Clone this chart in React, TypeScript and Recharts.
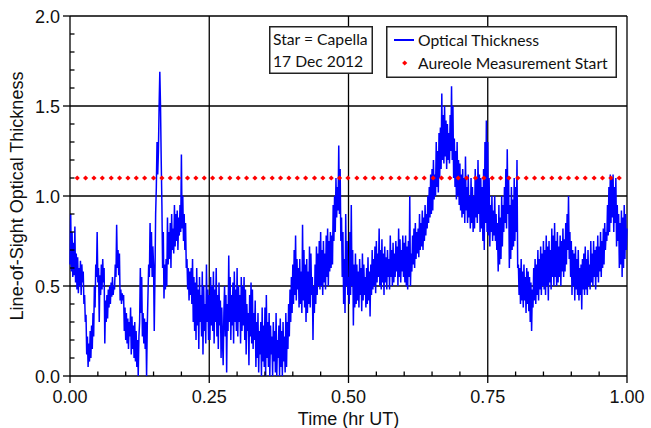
import { ComposedChart, Line, Scatter, XAxis, YAxis, ReferenceLine, Legend } from "recharts";

// optical thickness samples, one every 0.00125 hr, one array per eighth of the hour
const T_STEP = 0.00125;

const tau1 = [
  0.62, 0.90, 0.58, 0.80, 0.55, 0.74, 0.56, 0.83, 0.52, 0.68,
  0.48, 0.66, 0.46, 0.60, 0.50, 0.64, 0.45, 0.62, 0.52, 0.58,
  0.40, 0.45, 0.30, 0.34, 0.12, 0.22, 0.05, 0.18, 0.08, 0.25,
  0.10, 0.28, 0.15, 0.35, 0.22, 0.50, 0.38, 0.62, 0.55, 0.80,
  0.52, 0.60, 0.30, 0.56, 0.45, 0.62, 0.48, 0.65, 0.52, 0.60,
  0.18, 0.42, 0.30, 0.45, 0.32, 0.48, 0.38, 0.50, 0.40, 0.52,
  0.44, 0.55, 0.45, 0.50, 0.48, 0.62, 0.55, 0.84, 0.60, 0.70,
  0.56, 0.68, 0.42, 0.48, 0.40, 0.46, 0.42, 0.45, 0.25, 0.38,
  0.20, 0.35, 0.18, 0.32, 0.15, 0.30, 0.22, 0.38, 0.12, 0.33,
  0.15, 0.28, 0.10, 0.30, 0.08, 0.25, 0.05, 0.20, 0.00, 0.22,
];

const tau2 = [
  0.30, 0.60, 0.35, 0.55, 0.22, 0.35, 0.18, 0.32, 0.15, 0.30,
  0.00, 0.28, 0.45, 0.62, 0.55, 0.85, 0.60, 0.80, 0.55, 0.72,
  0.62, 0.25, 0.55, 0.90, 1.05, 1.30, 1.12, 1.25, 1.50, 1.69,
  1.50, 1.20, 0.95, 0.60, 0.80, 0.43, 0.62, 0.48, 0.65, 0.50,
  0.88, 0.62, 0.80, 0.65, 0.85, 0.60, 0.90, 0.70, 0.82, 0.68,
  0.95, 0.72, 0.90, 0.75, 0.92, 0.70, 0.88, 0.78, 0.95, 0.80,
  1.23, 0.82, 1.00, 0.75, 0.90, 0.70, 0.85, 0.60, 0.65, 0.48,
  0.60, 0.42, 0.58, 0.45, 0.60, 0.40, 0.65, 0.30, 0.55, 0.25,
  0.52, 0.20, 0.60, 0.28, 0.48, 0.15, 0.55, 0.30, 0.45, 0.22,
  0.58, 0.12, 0.50, 0.25, 0.40, 0.18, 0.62, 0.30, 0.48, 0.20,
];

const tau3 = [
  0.45, 0.20, 0.55, 0.28, 0.50, 0.25, 0.58, 0.18, 0.48, 0.30,
  0.60, 0.22, 0.45, 0.15, 0.52, 0.28, 0.42, 0.10, 0.38, 0.20,
  0.06, 0.35, 0.50, 0.22, 0.45, 0.02, 0.40, 0.25, 0.67, 0.30,
  0.55, 0.20, 0.45, 0.28, 0.52, 0.18, 0.58, 0.30, 0.48, 0.25,
  0.60, 0.22, 0.50, 0.30, 0.45, 0.18, 0.55, 0.25, 0.50, 0.28,
  0.55, 0.20, 0.48, 0.12, 0.40, 0.25, 0.35, 0.06, 0.45, 0.22,
  0.52, 0.18, 0.48, 0.15, 0.35, 0.20, 0.42, 0.05, 0.30, 0.10,
  0.35, 0.02, 0.25, 0.12, 0.30, 0.00, 0.38, 0.08, 0.28, 0.05,
  0.38, 0.00, 0.45, 0.10, 0.30, 0.05, 0.35, 0.00, 0.28, 0.12,
  0.22, 0.00, 0.30, 0.08, 0.25, 0.02, 0.35, 0.00, 0.20, 0.10,
];

const tau4 = [
  0.28, 0.00, 0.32, 0.05, 0.25, 0.00, 0.30, 0.08, 0.22, 0.02,
  0.35, 0.05, 0.30, 0.15, 0.40, 0.22, 0.48, 0.30, 0.55, 0.35,
  0.62, 0.40, 0.70, 0.45, 0.78, 0.42, 0.65, 0.48, 0.60, 0.38,
  0.65, 0.40, 0.58, 0.35, 0.84, 0.42, 0.70, 0.38, 0.62, 0.30,
  0.65, 0.35, 0.58, 0.40, 0.72, 0.38, 0.68, 0.45, 0.55, 0.20,
  0.50, 0.35, 0.62, 0.40, 0.72, 0.45, 0.68, 0.50, 0.75, 0.48,
  0.80, 0.50, 0.70, 0.45, 0.75, 0.52, 0.68, 0.48, 0.78, 0.55,
  0.82, 0.50, 0.75, 0.58, 0.80, 0.60, 0.78, 0.62, 0.95, 0.75,
  1.00, 0.80, 1.10, 0.88, 1.05, 0.92, 1.28, 0.90, 1.15, 0.75,
  0.88, 0.55, 0.80, 0.40, 0.65, 0.35, 0.90, 0.50, 0.75, 0.45,
];

const tau5 = [
  0.55, 0.40, 0.80, 0.45, 0.95, 0.50, 0.70, 0.28, 0.62, 0.38,
  0.68, 0.40, 0.62, 0.42, 0.58, 0.38, 0.65, 0.45, 0.60, 0.36,
  0.68, 0.42, 0.62, 0.45, 0.55, 0.38, 0.60, 0.40, 0.66, 0.42,
  0.58, 0.33, 0.62, 0.45, 0.70, 0.48, 0.65, 0.50, 0.72, 0.46,
  0.75, 0.52, 0.68, 0.55, 0.82, 0.50, 0.70, 0.48, 0.76, 0.52,
  0.68, 0.45, 0.72, 0.52, 0.66, 0.48, 0.70, 0.55, 0.65, 0.48,
  0.78, 0.55, 0.70, 0.50, 0.74, 0.52, 0.68, 0.55, 0.75, 0.58,
  0.72, 0.50, 0.82, 0.55, 0.76, 0.52, 0.70, 0.58, 0.78, 0.55,
  0.74, 0.52, 0.78, 0.50, 0.72, 0.48, 0.75, 0.55, 1.00, 0.50,
  0.68, 0.58, 0.78, 0.62, 0.82, 0.60, 0.85, 0.65, 0.80, 0.68,
];

const tau6 = [
  0.82, 0.66, 0.90, 0.70, 0.85, 0.72, 0.92, 0.70, 0.88, 0.75,
  0.95, 0.78, 0.90, 0.82, 1.00, 0.85, 1.05, 0.88, 1.12, 0.90,
  1.15, 0.92, 1.20, 0.98, 1.12, 1.00, 1.30, 1.05, 1.25, 1.02,
  1.35, 1.10, 1.38, 1.15, 1.57, 1.20, 1.45, 1.18, 1.50, 1.22,
  1.42, 1.15, 1.40, 1.20, 1.35, 1.18, 1.45, 1.25, 1.61, 1.20,
  1.50, 1.10, 1.32, 1.05, 1.25, 0.98, 1.30, 1.00, 1.20, 0.95,
  1.18, 0.92, 1.12, 0.88, 1.15, 0.90, 1.10, 0.85, 1.22, 0.92,
  1.05, 0.85, 1.12, 0.88, 1.00, 0.82, 1.10, 0.85, 1.05, 0.80,
  1.00, 0.82, 1.15, 0.88, 1.10, 0.85, 1.20, 0.90, 1.12, 0.80,
  1.10, 0.82, 1.05, 0.75, 1.15, 0.70, 1.30, 0.85, 1.42, 0.80,
];

const tau7 = [
  1.30, 0.78, 1.10, 0.72, 0.95, 0.80, 1.00, 0.75, 0.92, 0.78,
  1.00, 0.75, 0.90, 0.70, 0.85, 0.58, 0.95, 0.62, 0.88, 0.65,
  1.00, 0.72, 0.95, 0.80, 1.05, 0.85, 1.15, 0.82, 1.26, 0.90,
  1.10, 0.60, 0.95, 0.65, 1.05, 0.70, 0.98, 0.72, 1.10, 0.75,
  1.05, 0.80, 1.20, 0.60, 0.62, 0.45, 0.60, 0.40, 0.65, 0.42,
  0.58, 0.38, 0.62, 0.42, 0.55, 0.35, 0.60, 0.40, 0.58, 0.36,
  0.55, 0.30, 0.52, 0.25, 0.48, 0.38, 0.60, 0.42, 0.65, 0.40,
  0.62, 0.45, 0.70, 0.42, 0.65, 0.48, 0.72, 0.45, 0.68, 0.50,
  0.75, 0.48, 0.70, 0.45, 0.78, 0.50, 0.72, 0.42, 0.75, 0.52,
  0.70, 0.48, 0.82, 0.55, 0.78, 0.50, 0.85, 0.55, 0.75, 0.50,
];

const tau8 = [
  0.80, 0.52, 0.72, 0.55, 0.78, 0.50, 0.75, 0.58, 0.82, 0.55,
  0.76, 0.58, 0.85, 0.62, 0.90, 0.70, 1.00, 0.65, 0.80, 0.55,
  0.75, 0.45, 0.70, 0.50, 0.68, 0.42, 0.72, 0.48, 0.65, 0.45,
  0.70, 0.42, 0.60, 0.45, 0.62, 0.37, 0.65, 0.48, 0.68, 0.45,
  0.72, 0.48, 0.65, 0.45, 0.70, 0.50, 0.62, 0.48, 0.75, 0.52,
  0.68, 0.50, 0.75, 0.55, 0.70, 0.48, 0.72, 0.55, 0.78, 0.52,
  0.72, 0.58, 0.80, 0.55, 0.75, 0.60, 0.82, 0.62, 0.85, 0.70,
  0.80, 0.75, 0.95, 0.78, 1.05, 0.80, 1.12, 0.85, 1.10, 0.88,
  1.12, 0.80, 1.05, 0.85, 1.10, 0.72, 0.95, 0.75, 0.90, 0.60,
  0.85, 0.62, 0.92, 0.55, 0.88, 0.60, 0.95, 0.65, 0.90, 0.70,
];

const tauLast = 0.82;

// start times of the aureole measurements (hr UT)
const aureoleTimes = [
  0.013, 0.028, 0.043, 0.058, 0.074, 0.089, 0.104, 0.119, 0.134, 0.150,
  0.165, 0.180, 0.195, 0.211, 0.226, 0.241, 0.256, 0.271, 0.287, 0.302,
  0.317, 0.332, 0.347, 0.363, 0.378, 0.393, 0.408, 0.423, 0.439, 0.454,
  0.469, 0.484, 0.499, 0.515, 0.530, 0.545, 0.560, 0.576, 0.591, 0.606,
  0.621, 0.636, 0.652, 0.667, 0.682, 0.697, 0.712, 0.728, 0.743, 0.758,
  0.773, 0.788, 0.804, 0.819, 0.834, 0.849, 0.865, 0.880, 0.895, 0.910,
  0.925, 0.941, 0.956, 0.971, 0.986,
];
const aureoleLevel = 1.1;

const xTicks = [
  0, 0.05, 0.1, 0.15, 0.2, 0.25, 0.3, 0.35, 0.4, 0.45, 0.5,
  0.55, 0.6, 0.65, 0.7, 0.75, 0.8, 0.85, 0.9, 0.95, 1,
];
const yTicks = [
  0, 0.1, 0.2, 0.3, 0.4, 0.5, 0.6, 0.7, 0.8, 0.9, 1,
  1.1, 1.2, 1.3, 1.4, 1.5, 1.6, 1.7, 1.8, 1.9, 2,
];
const xMajor = [0, 0.25, 0.5, 0.75, 1];
const yMajor = [0, 0.5, 1, 1.5, 2];

const tau = [...tau1, ...tau2, ...tau3, ...tau4, ...tau5, ...tau6, ...tau7, ...tau8, tauLast];
const tauData = tau.map((v, i) => ({ t: +(i * T_STEP).toFixed(5), v }));
const aureoleData = aureoleTimes.map((t) => ({ t, v: aureoleLevel }));

const isMajor = (list: number[], v: number) => list.some((m) => Math.abs(m - v) < 1e-6);

const AXIS_FONT = "'Liberation Sans', Arial, sans-serif";
const BOX_FONT = "Lato, 'Noto Sans', sans-serif";

const XTick = ({ x, y, payload }: any) => {
  const major = isMajor(xMajor, payload.value);
  return (
    <g>
      {major ? (
        <line x1={x} x2={x} y1={y} y2={y + 7} stroke="#000" strokeWidth={1.3} />
      ) : (
        <line x1={x} x2={x} y1={y} y2={y - 4.5} stroke="#000" strokeWidth={1.3} />
      )}
      {major && (
        <text x={x} y={y + 27} textAnchor="middle" fontSize={18} fontFamily={AXIS_FONT} fill="#111">
          {payload.value.toFixed(2)}
        </text>
      )}
    </g>
  );
};

const YTick = ({ x, y, payload }: any) => {
  const major = isMajor(yMajor, payload.value);
  return (
    <g>
      {major ? (
        <line x1={x} x2={x - 7} y1={y} y2={y} stroke="#000" strokeWidth={1.3} />
      ) : (
        <line x1={x} x2={x + 4.5} y1={y} y2={y} stroke="#000" strokeWidth={1.3} />
      )}
      {major && (
        <text x={x - 10} y={y + 6.5} textAnchor="end" fontSize={18} fontFamily={AXIS_FONT} fill="#111">
          {payload.value.toFixed(1)}
        </text>
      )}
    </g>
  );
};

const YTitle = ({ viewBox }: any) => {
  const cx = viewBox.x + 17;
  const cy = viewBox.y + viewBox.height / 2;
  return (
    <text
      x={cx}
      y={cy}
      transform={`rotate(-90, ${cx}, ${cy})`}
      textAnchor="middle"
      dominantBaseline="central"
      fontSize={18}
      fontFamily={AXIS_FONT}
      fill="#111"
    >
      Line-of-Sight Optical Thickness
    </text>
  );
};

const Diamond = ({ cx, cy }: any) => (
  <path d={`M${cx},${cy - 2.6}L${cx + 2.6},${cy}L${cx},${cy + 2.6}L${cx - 2.6},${cy}Z`} fill="#ff0000" />
);

const LegendBox = () => (
  <svg width={231} height={52} style={{ display: "block" }}>
    <rect x={0.75} y={0.75} width={229.5} height={50.5} fill="#fff" stroke="#222" strokeWidth={1.5} />
    <line x1={8} x2={28} y1={14} y2={14} stroke="#0000ff" strokeWidth={2} />
    <path d="M18.7,34.4L21.3,37L18.7,39.6L16.1,37Z" fill="#ff0000" />
    <text x={32} y={19.5} fontSize={15.7} fontFamily={BOX_FONT} fill="#111">Optical Thickness</text>
    <text x={32} y={42.5} fontSize={15.7} fontFamily={BOX_FONT} fill="#111">Aureole Measurement Start</text>
  </svg>
);

export default function App() {
  return (
    <div style={{ position: "absolute", left: 0, top: 0, width: 651, height: 428, background: "#fff" }}>
      <ComposedChart
        width={651}
        height={428}
        margin={{ top: 16, right: 24, bottom: 0, left: 0 }}
        style={{ fontFamily: AXIS_FONT }}
      >
        {xMajor.map((v) => (
          <ReferenceLine key={`gx${v}`} x={v} stroke="#000" strokeWidth={1.3} />
        ))}
        {yMajor.map((v) => (
          <ReferenceLine key={`gy${v}`} y={v} stroke="#000" strokeWidth={1.3} />
        ))}
        <XAxis
          dataKey="t"
          type="number"
          domain={[0, 1]}
          ticks={xTicks}
          interval={0}
          height={52}
          axisLine={false}
          tickLine={false}
          tickSize={0}
          tickMargin={0}
          tick={<XTick />}
          allowDuplicatedCategory={false}
          label={{ value: "Time (hr UT)", position: "insideBottom", offset: 3, fontSize: 18, fill: "#111", fontFamily: AXIS_FONT }}
        />
        <YAxis
          type="number"
          domain={[0, 2]}
          ticks={yTicks}
          interval={0}
          width={70}
          axisLine={false}
          tickLine={false}
          tickSize={0}
          tickMargin={0}
          tick={<YTick />}
          label={{ content: <YTitle /> }}
        />
        <Legend
          layout="horizontal"
          verticalAlign="middle"
          align="center"
          wrapperStyle={{ position: "absolute", left: 386, top: 26, width: 231, height: 52 }}
          content={<LegendBox />}
        />
        <Line
          data={tauData}
          dataKey="v"
          type="linear"
          stroke="#0000ff"
          strokeWidth={1.5}
          dot={false}
          activeDot={false}
          isAnimationActive={false}
        />
        <Scatter data={aureoleData} dataKey="v" shape={<Diamond />} isAnimationActive={false} />
      </ComposedChart>
      <svg width={104} height={48} style={{ position: "absolute", left: 269, top: 26 }}>
        <rect x={0.75} y={0.75} width={102.5} height={46.5} fill="#fff" stroke="#222" strokeWidth={1.5} />
        <text x={4} y={18.5} fontSize={15.7} fontFamily={BOX_FONT} fill="#111">Star = Capella</text>
        <text x={4} y={40.5} fontSize={15.7} fontFamily={BOX_FONT} fill="#111">17 Dec 2012</text>
      </svg>
    </div>
  );
}
